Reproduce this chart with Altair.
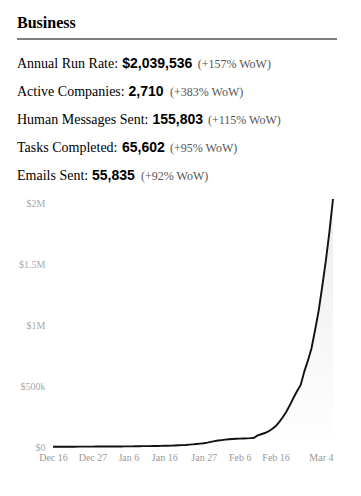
import altair as alt
import pandas as pd

# ---- data -------------------------------------------------------------
dates = pd.date_range("2024-12-16", "2025-03-04", freq="D")
run_rate = [
    1500, 1700, 1900, 2100, 2300, 2400, 2500, 2700, 2900, 3000, 3100, 3300, 3500, 3600, 3800, 4000,  # Dec 16-31
    4100, 4300, 4500, 4700, 4900, 5200, 5500, 5900, 6300, 6800, 7200, 7600, 8100, 8600, 9200, 9800,  # Jan 1-16
    10500, 11500, 12500, 14000, 15500, 17000, 19500, 22000, 25000, 28000, 31000, 36000, 42000, 48000, 53000,  # Jan 17-31
    57000, 61000, 64000, 66000, 68000, 69000, 70000, 71000, 73000, 76000, 95000, 105000, 115000, 128000,  # Feb 1-14
    148000, 170000, 205000, 245000, 290000, 345000, 405000, 460000, 510000, 620000, 710000, 810000,  # Feb 15-26
    960000, 1120000,  # Feb 27-28
    1320000, 1530000, 1770000, 2039536,  # Mar 1-4
]

title_text = "Business"
stat_labels = ["Annual Run Rate:", "Active Companies:", "Human Messages Sent:", "Tasks Completed:", "Emails Sent:"]
stat_values = ["$2,039,536", "2,710", "155,803", "65,602", "55,835"]
stat_changes = ["(+157% WoW)", "(+383% WoW)", "(+115% WoW)", "(+95% WoW)", "(+92% WoW)"]

x_tick_dates = ["2024-12-16", "2024-12-27", "2025-01-06", "2025-01-16",
                "2025-01-27", "2025-02-06", "2025-02-16", "2025-03-04"]
y_ticks = [0, 500000, 1000000, 1500000, 2000000]

# ---- layout (pixels, relative to plot origin) ---------------------------
value_x = [69.2, 75.5, 99.5, 69, 39]
change_x = [144.7, 117, 155, 117, 88]
line_y = [-130.7, -102.7, -74.7, -46.7, -18.7]

SERIF = "Liberation Serif"
SANS = "Liberation Sans"

def ms(d):
    return int(pd.Timestamp(d, tz="UTC").timestamp() * 1000)

df = pd.DataFrame({"date": [ms(d) for d in dates], "value": run_rate})
tick_ms = [ms(d) for d in x_tick_dates]
last_ms = tick_ms[-1]

x_enc = alt.X(
    "date:T",
    scale=alt.Scale(type="utc", nice=False, domain=[tick_ms[0], last_ms]),
    axis=alt.Axis(
        values=tick_ms, format="%b %-d", title=None, grid=False, domain=False, ticks=False,
        labelFont=SERIF, labelFontSize=10, labelColor="#999999", labelPadding=5,
        labelOverlap=False, labelFlush=False,
        labelAlign={"expr": f"datum.value >= {last_ms} ? 'right' : 'center'"},
    ),
)
y_enc = alt.Y(
    "value:Q",
    scale=alt.Scale(domain=[0, max(run_rate)], nice=False, zero=True),
    axis=alt.Axis(
        values=y_ticks, title=None, grid=False, domain=False, ticks=False,
        labelFont=SERIF, labelFontSize=10, labelColor="#aaaaaa", labelPadding=8,
        labelExpr="datum.value == 0 ? '$0' : (datum.value < 1000000 ? '$' + datum.value/1000 + 'k' : '$' + datum.value/1000000 + 'M')",
    ),
)

area = alt.Chart(df).mark_area(
    color=alt.Gradient(
        gradient="linear",
        stops=[alt.GradientStop(color="#ececec", offset=0), alt.GradientStop(color="#ffffff", offset=1)],
        x1=1, x2=1, y1=0, y2=1,
    )
).encode(x=x_enc, y=y_enc)

line = alt.Chart(df).mark_line(color="#111111", strokeWidth=1.9).encode(x=x_enc, y=y_enc)


def text_layer(s, x, y, font, size, weight, color):
    return alt.Chart(pd.DataFrame({"t": [s]})).mark_text(
        align="left", baseline="alphabetic", font=font, fontSize=size,
        fontWeight=weight, color=color,
    ).encode(x=alt.value(x), y=alt.value(y), text="t:N")


layers = [area, line]
layers.append(text_layer(title_text, -36, -170.7, SERIF, 16, "bold", "#000000"))
layers.append(
    alt.Chart(pd.DataFrame({"a": [0]})).mark_rule(color="#000000", strokeWidth=1).encode(
        x=alt.value(-36), x2=alt.value(284), y=alt.value(-160)
    )
)
for i in range(len(stat_labels)):
    layers.append(text_layer(stat_labels[i], -36, line_y[i], SERIF, 14, "normal", "#000000"))
    layers.append(text_layer(stat_values[i], value_x[i], line_y[i], SANS, 14, "bold", "#000000"))
    layers.append(text_layer(stat_changes[i], change_x[i], line_y[i], SERIF, 12, "normal", "#555555"))

chart = alt.layer(*layers).properties(
    width=280,
    height=248,
    padding={"left": 45, "top": 191, "right": 20, "bottom": 40},
    autosize=alt.AutoSizeParams(type="none"),
).configure_view(strokeWidth=0)

chart.save("out.html", embed_options={"renderer": "svg", "actions": False})
